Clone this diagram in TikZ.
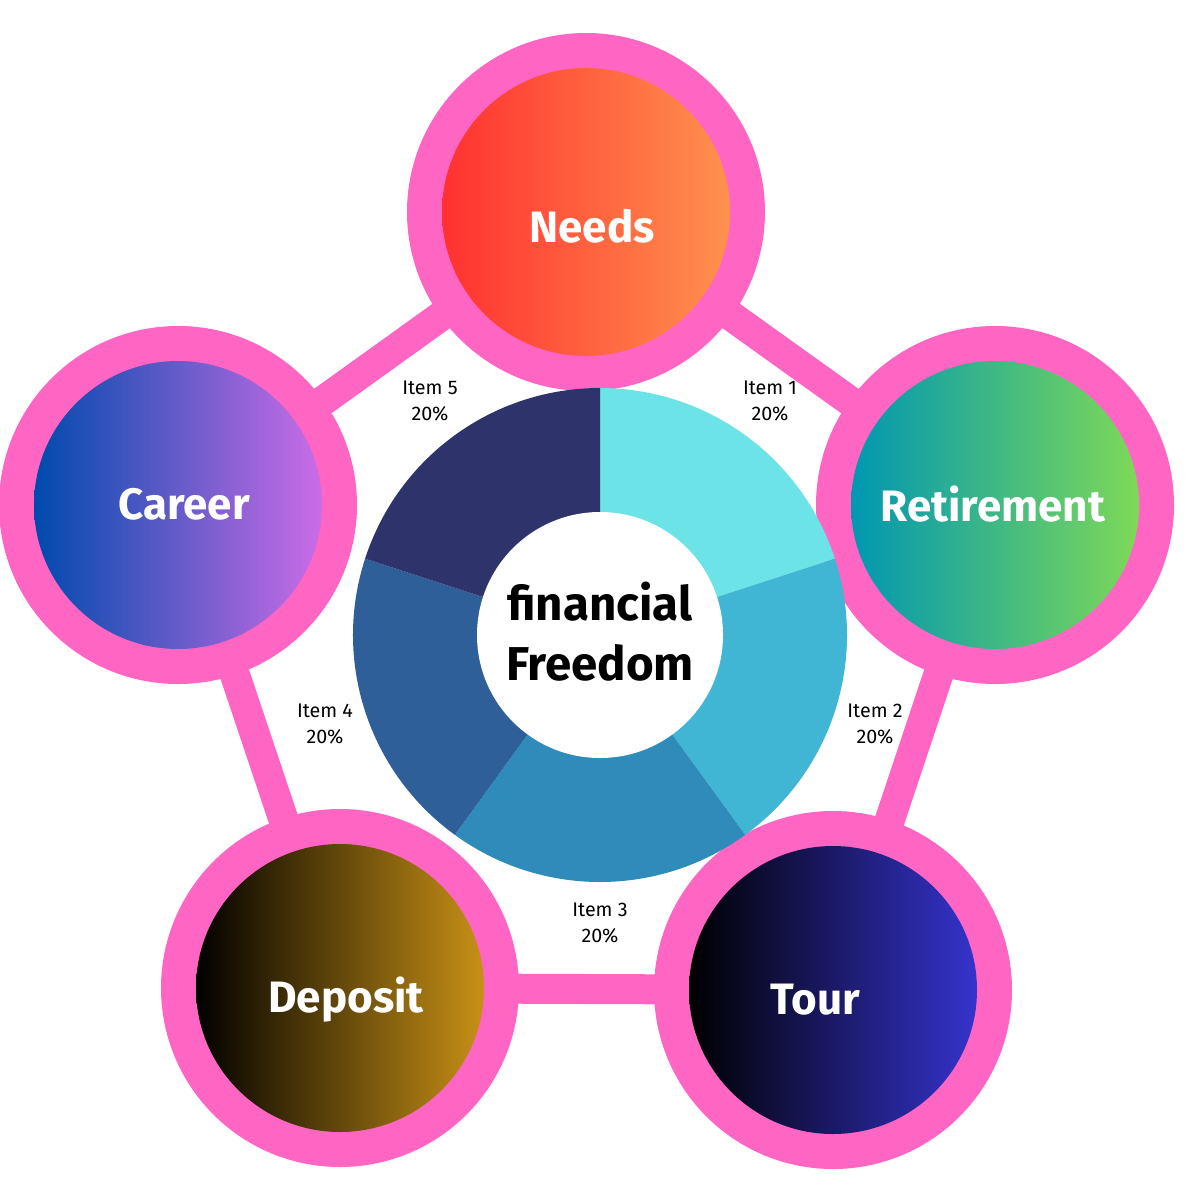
\documentclass[tikz,border=0pt]{standalone}
\usepackage{fontspec}
\setmainfont{Fira Sans}
\definecolor{pk}{HTML}{FF66C4}
\definecolor{s1}{HTML}{6BE3E7}
\definecolor{s2}{HTML}{41B6D4}
\definecolor{s3}{HTML}{2E8BBA}
\definecolor{s4}{HTML}{2E5F98}
\definecolor{s5}{HTML}{2F336B}
\definecolor{nA}{HTML}{FF3131}\definecolor{nB}{HTML}{FF914D}
\definecolor{rA}{HTML}{0097B2}\definecolor{rB}{HTML}{7ED957}
\definecolor{tA}{HTML}{000000}\definecolor{tB}{HTML}{3533CD}
\definecolor{dA}{HTML}{000000}\definecolor{dB}{HTML}{C89116}
\definecolor{cA}{HTML}{004AAD}\definecolor{cB}{HTML}{CB6CE6}
\tikzset{lbl/.style={text=white,font=\fontsize{12.5}{15}\selectfont\bfseries},
 item/.style={font=\fontsize{5.6}{7.5}\selectfont,align=center},
 link/.style={pk,line width=30*0.01cm}}
\begin{document}
\begin{tikzpicture}[x=0.01cm,y=0.01cm]
\useasboundingbox (0,0) rectangle (1200,-1200);
\coordinate (N) at (586,-212);
\coordinate (R) at (995,-505);
\coordinate (T) at (833,-990);
\coordinate (D) at (340,-988);
\coordinate (C) at (178,-505);
\coordinate (O) at (600,-635);
\draw[link] (N)--(R)--(T)--(D)--(C)--cycle;
\foreach \p in {N,R,T,D,C} \fill[pk] (\p) circle (179);
\shade[left color=nA,right color=nB] (N) circle (144);
\shade[left color=rA,right color=rB] (R) circle (144);
\shade[left color=tA,right color=tB] (T) circle (144);
\shade[left color=dA,right color=dB] (D) circle (144);
\shade[left color=cA,right color=cB] (C) circle (144);
\node[lbl] (nl) at (592,-226) {Needs};
\node[lbl] (rl) at (993,-504) {Retirement};
\node[lbl] (tl) at (815,-1000) {Tour};
\node[lbl] (dl) at (346,-1000) {Deposit};
\node[lbl] (cl) at (184,-504) {Career};
\foreach \a/\c in {90/s1,18/s2,-54/s3,-126/s4,-198/s5}
  \fill[\c] (O) ++(\a:247) arc[start angle=\a,end angle=\a-72,radius=247] -- (O) -- cycle;
\fill[white] (O) circle (123);
\node[font=\fontsize{13.5}{17}\selectfont\bfseries,align=center] (ct) at (600,-632) {financial\\Freedom};
\node[item] (i1) at (770,-401) {Item 1\\20\%};
\node[item] (i2) at (875,-724) {Item 2\\20\%};
\node[item] (i3) at (600,-923) {Item 3\\20\%};
\node[item] (i4) at (325,-724) {Item 4\\20\%};
\node[item] (i5) at (430,-401) {Item 5\\20\%};
\end{tikzpicture}
\end{document}
